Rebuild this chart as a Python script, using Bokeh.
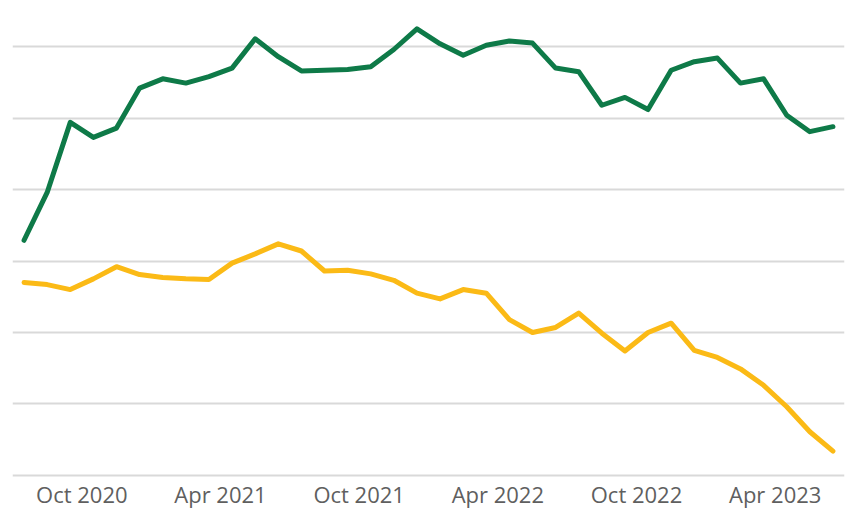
from bokeh.plotting import figure
from bokeh.models import Range1d, FixedTicker
from bokeh.embed import file_html
from bokeh.resources import INLINE

# Monthly series, Aug 2020 .. Jul 2023
months = ["Aug 2020", "Sep 2020", "Oct 2020", "Nov 2020", "Dec 2020", "Jan 2021",
          "Feb 2021", "Mar 2021", "Apr 2021", "May 2021", "Jun 2021", "Jul 2021",
          "Aug 2021", "Sep 2021", "Oct 2021", "Nov 2021", "Dec 2021", "Jan 2022",
          "Feb 2022", "Mar 2022", "Apr 2022", "May 2022", "Jun 2022", "Jul 2022",
          "Aug 2022", "Sep 2022", "Oct 2022", "Nov 2022", "Dec 2022", "Jan 2023",
          "Feb 2023", "Mar 2023", "Apr 2023", "May 2023", "Jun 2023", "Jul 2023"]

green_series = [32.9, 39.6, 49.4, 47.3, 48.6, 54.2, 55.5, 54.9, 55.8, 57.0, 61.1, 58.6,
                56.6, 56.7, 56.8, 57.2, 59.6, 62.5, 60.4, 58.8, 60.2, 60.8, 60.5, 57.0,
                56.5, 51.8, 52.9, 51.2, 56.7, 57.9, 58.4, 54.9, 55.5, 50.4, 48.1, 48.8]

yellow_series = [27.0, 26.7, 26.0, 27.5, 29.2, 28.1, 27.7, 27.5, 27.4, 29.7, 31.0, 32.4,
                 31.4, 28.6, 28.7, 28.2, 27.3, 25.5, 24.7, 26.0, 25.5, 21.8, 20.0, 20.7,
                 22.7, 19.9, 17.4, 20.0, 21.3, 17.5, 16.5, 14.9, 12.6, 9.6, 6.1, 3.4]

tick_labels = ["Oct 2020", "Apr 2021", "Oct 2021", "Apr 2022", "Oct 2022", "Apr 2023"]
grid_values = [0, 10, 20, 30, 40, 50, 60]

x = list(range(len(months)))

p = figure(width=854, height=523, output_backend="svg", toolbar_location=None,
           x_range=Range1d(-0.5, len(months) - 0.5), y_range=Range1d(-0.3, 65.06),
           min_border_left=12, min_border_right=10, min_border_top=10, min_border_bottom=46)

p.outline_line_color = None
p.background_fill_color = "white"
p.border_fill_color = "white"

p.line(x, green_series, line_color="#0E7A48", line_width=5, line_join="round", line_cap="round")
p.line(x, yellow_series, line_color="#FBBA16", line_width=5, line_join="round", line_cap="round")

# Axes
tick_pos = [months.index(t) + 0.5 for t in tick_labels]
p.xaxis.ticker = FixedTicker(ticks=tick_pos)
p.xaxis.major_label_overrides = {tp: t for tp, t in zip(tick_pos, tick_labels)}
p.xaxis.axis_line_color = None
p.xaxis.major_tick_line_color = None
p.xaxis.major_tick_out = 0
p.xaxis.major_tick_in = 0
p.xaxis.minor_tick_line_color = None
p.xaxis.minor_tick_out = 0
p.xaxis.major_label_standoff = 1
p.xaxis.major_label_text_font = "Open Sans"
p.xaxis.major_label_text_font_size = "22px"
p.xaxis.major_label_text_color = "#5f5f5f"

p.yaxis.visible = False
p.yaxis.ticker = FixedTicker(ticks=grid_values)
p.ygrid.ticker = FixedTicker(ticks=grid_values)
p.ygrid.grid_line_color = "#D9D9D9"
p.ygrid.grid_line_width = 2
p.xgrid.grid_line_color = None

open("out.html", "w").write(file_html(p, INLINE))
